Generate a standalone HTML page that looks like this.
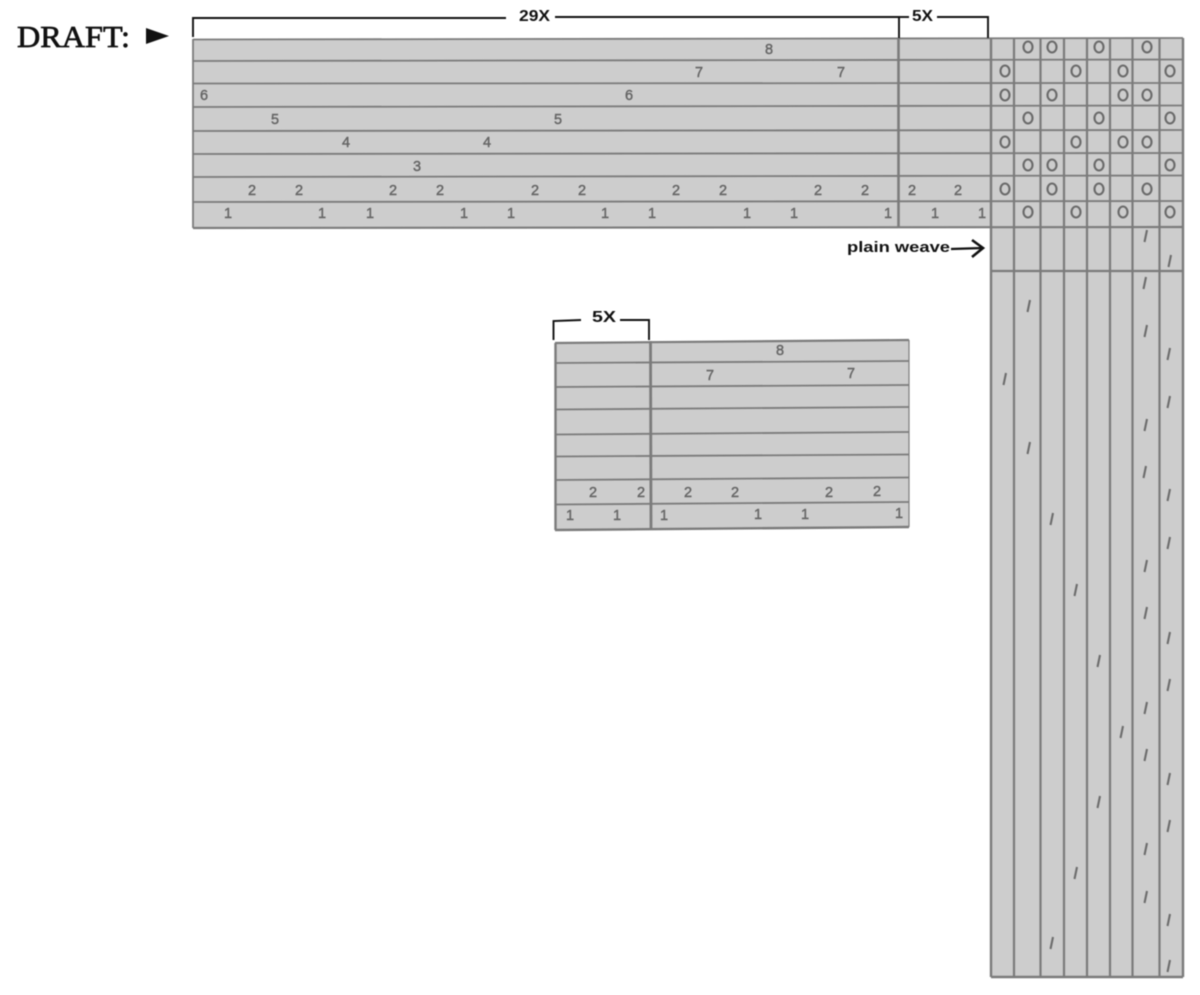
<!DOCTYPE html>
<html>
<head>
<meta charset="utf-8">
<style>
html,body{margin:0;padding:0;background:#fff;width:1200px;height:995px;overflow:hidden}
svg{display:block;filter:blur(0.45px)}
.d text{font-family:"Liberation Sans",sans-serif;font-size:14.500px;fill:#666;stroke:#666;stroke-width:0.450px;text-anchor:middle}
.b text{font-family:"Liberation Sans",sans-serif;font-weight:bold;fill:#111}
</style>
</head>
<body>
<svg width="1200" height="995" viewBox="0 0 1200 995" xmlns="http://www.w3.org/2000/svg">
<rect width="1200" height="995" fill="#fff"/>
<path d="M193 39 L1183 38 L1183 977 L991 977 L991 228 L193 228 Z" fill="#cdcdcd"/>
<path d="M555 343 L909 340 L909 527 L555 530 Z" fill="#cdcdcd"/>

<g fill="none" stroke="#7b7b7b" stroke-width="1.8">
<path d="M193 39.5 L1183 38"/>
<path d="M193 61 L1183 59.5"/>
<path d="M193 83.5 L1183 83"/>
<path d="M193 107 L1183 105.5"/>
<path d="M193 131 L1183 130"/>
<path d="M193 154 L1183 153"/>
<path d="M193 177 L1183 175.5"/>
<path d="M193 202 L1183 201"/>
<path d="M193 228 L1183 227" stroke-width="2.200"/>
<path d="M991 271 L1183 271" stroke-width="2.200"/>
<path d="M991 977 L1183 977" stroke-width="2.400"/>
<path d="M193 39 L193 228"/>
<path d="M898.500 38 L898.500 228" stroke-width="2.600"/>
<path d="M991 38 L991 977" stroke-width="2.400"/>
<path d="M1014 38 L1014 977" stroke-width="2.200"/>
<path d="M1040.500 38 L1040.500 977" stroke-width="2.200"/>
<path d="M1064 38 L1064 977" stroke-width="2.200"/>
<path d="M1087 38 L1087 977" stroke-width="2.200"/>
<path d="M1110 38 L1110 977" stroke-width="2.200"/>
<path d="M1132.500 38 L1132.500 977" stroke-width="2.200"/>
<path d="M1159.500 38 L1159.500 977" stroke-width="2.200"/>
<path d="M1183 38 L1183 977" stroke-width="2.400"/>

<path d="M555 343 L909 340" stroke-width="2.200"/>
<path d="M555 363 L909 361"/>
<path d="M555 387 L909 385"/>
<path d="M555 409.500 L909 407"/>
<path d="M555 434.500 L909 432"/>
<path d="M555 456.500 L909 454.500"/>
<path d="M555 480 L909 477.500"/>
<path d="M555 504.500 L909 502"/>
<path d="M555 530 L909 527" stroke-width="2.400"/>
<path d="M555.500 343 L555.500 530" stroke-width="2.400"/>
<path d="M650.500 341 L651 530" stroke-width="2.800"/>
<path d="M909 340 L909 527" stroke-width="1.200"/>
</g>

<g class="d">
<text x="769" y="54">8</text>
<text x="699" y="77">7</text><text x="841" y="77">7</text>
<text x="204" y="100">6</text><text x="629" y="100">6</text>
<text x="275" y="124">5</text><text x="558" y="124">5</text>
<text x="346" y="147">4</text><text x="487" y="147">4</text>
<text x="417" y="171">3</text>
<text x="252" y="195">2</text><text x="299" y="195">2</text><text x="393" y="195">2</text><text x="440" y="195">2</text><text x="535" y="195">2</text><text x="582" y="195">2</text><text x="676" y="195">2</text><text x="723" y="195">2</text><text x="818" y="195">2</text><text x="865" y="195">2</text><text x="912" y="195">2</text><text x="958" y="195">2</text>
<text x="228" y="218">1</text><text x="322" y="218">1</text><text x="370" y="218">1</text><text x="464" y="218">1</text><text x="511" y="218">1</text><text x="605" y="218">1</text><text x="652" y="218">1</text><text x="747" y="218">1</text><text x="794" y="218">1</text><text x="888" y="218">1</text><text x="935" y="218">1</text><text x="982" y="218">1</text>

<text x="780" y="355">8</text>
<text x="710" y="380">7</text><text x="851" y="378">7</text>
<text x="593" y="497">2</text><text x="641" y="497">2</text><text x="688" y="497">2</text><text x="735" y="497">2</text><text x="829" y="497">2</text><text x="877" y="496">2</text>
<text x="570" y="520">1</text><text x="617" y="520">1</text><text x="664" y="520">1</text><text x="758" y="519">1</text><text x="805" y="519">1</text><text x="899" y="518">1</text>
</g>

<g fill="none" stroke="#6a6a6a" stroke-width="2.100">
<ellipse cx="1028" cy="47" rx="4.500" ry="5.500"/><ellipse cx="1052" cy="47" rx="4.500" ry="5.500"/><ellipse cx="1099" cy="47" rx="4.500" ry="5.500"/><ellipse cx="1147" cy="47" rx="4.500" ry="5.500"/>
<ellipse cx="1005" cy="71" rx="4.500" ry="5.500"/><ellipse cx="1076" cy="71" rx="4.500" ry="5.500"/><ellipse cx="1123" cy="71" rx="4.500" ry="5.500"/><ellipse cx="1170" cy="71" rx="4.500" ry="5.500"/>
<ellipse cx="1005" cy="95" rx="4.500" ry="5.500"/><ellipse cx="1052" cy="95" rx="4.500" ry="5.500"/><ellipse cx="1123" cy="95" rx="4.500" ry="5.500"/><ellipse cx="1147" cy="95" rx="4.500" ry="5.500"/>
<ellipse cx="1028" cy="118" rx="4.500" ry="5.500"/><ellipse cx="1099" cy="118" rx="4.500" ry="5.500"/><ellipse cx="1170" cy="118" rx="4.500" ry="5.500"/>
<ellipse cx="1005" cy="142" rx="4.500" ry="5.500"/><ellipse cx="1076" cy="142" rx="4.500" ry="5.500"/><ellipse cx="1123" cy="142" rx="4.500" ry="5.500"/><ellipse cx="1147" cy="142" rx="4.500" ry="5.500"/>
<ellipse cx="1028" cy="165" rx="4.500" ry="5.500"/><ellipse cx="1052" cy="165" rx="4.500" ry="5.500"/><ellipse cx="1099" cy="165" rx="4.500" ry="5.500"/><ellipse cx="1170" cy="165" rx="4.500" ry="5.500"/>
<ellipse cx="1005" cy="189" rx="4.500" ry="5.500"/><ellipse cx="1052" cy="189" rx="4.500" ry="5.500"/><ellipse cx="1099" cy="189" rx="4.500" ry="5.500"/><ellipse cx="1147" cy="189" rx="4.500" ry="5.500"/>
<ellipse cx="1028" cy="212" rx="4.500" ry="5.500"/><ellipse cx="1076" cy="212" rx="4.500" ry="5.500"/><ellipse cx="1123" cy="212" rx="4.500" ry="5.500"/><ellipse cx="1170" cy="212" rx="4.500" ry="5.500"/>
</g>

<path fill="none" stroke="#6c6c6c" stroke-width="2.100" d="M1144.500 242l2.500-12M1168.500 267l2.500-12M1143.500 289l2.500-12M1027.500 312l2.500-12M1144.500 337l2.500-12M1167.500 360l2.500-12M1003.500 385l2.500-12M1167.500 408l2.500-12M1144.500 431l2.500-12M1027.500 454l2.500-12M1143.500 478l2.500-12M1167.500 501l2.500-12M1050.500 525l2.500-12M1167.500 549l2.500-12M1144.500 572l2.500-12M1074.500 596l2.500-12M1144.500 619l2.500-12M1167.500 644l2.500-12M1097.500 667l2.500-12M1167.500 691l2.500-12M1144.500 714l2.500-12M1120.500 738l2.500-12M1144.500 761l2.500-12M1167.500 785l2.500-12M1097.500 808l2.500-12M1167.500 832l2.500-12M1144.500 855l2.500-12M1074.500 879l2.500-12M1144.500 903l2.500-12M1167.500 926l2.500-12M1050.500 949l2.500-12M1167.500 972l2.500-12"/>

<g fill="none" stroke="#111" stroke-width="1.900">
<path d="M193 37 L193 18 L506 18"/>
<path d="M555 17 L899 17 L899 38"/>
<path d="M899 17 L909 17"/>
<path d="M937 17 L988 17 L988 38"/>
<path d="M553.500 340 L553.500 321 L581 320"/>
<path d="M620 320 L649 320 L649 340"/>
<path d="M951 249 L983 248" stroke-width="2.200"/>
<path d="M972 240 L983 248 L972 257" stroke-width="2.600"/>
</g>

<g class="b">
<text x="519" y="21" font-size="16" textLength="31" lengthAdjust="spacingAndGlyphs">29X</text>
<text x="912" y="21" font-size="16" textLength="21" lengthAdjust="spacingAndGlyphs">5X</text>
<text x="592" y="322" font-size="16" textLength="24" lengthAdjust="spacingAndGlyphs">5X</text>
<text x="847" y="252" font-size="15" textLength="103" lengthAdjust="spacingAndGlyphs">plain weave</text>
</g>

<text x="17" y="47" font-family="'Liberation Serif',serif" font-size="31" fill="#111" stroke="#111" stroke-width="0.700" textLength="113" lengthAdjust="spacingAndGlyphs">DRAFT:</text>
<path d="M146 28 L169 36 L146 44 Z" fill="#111"/>
</svg>
</body>
</html>
